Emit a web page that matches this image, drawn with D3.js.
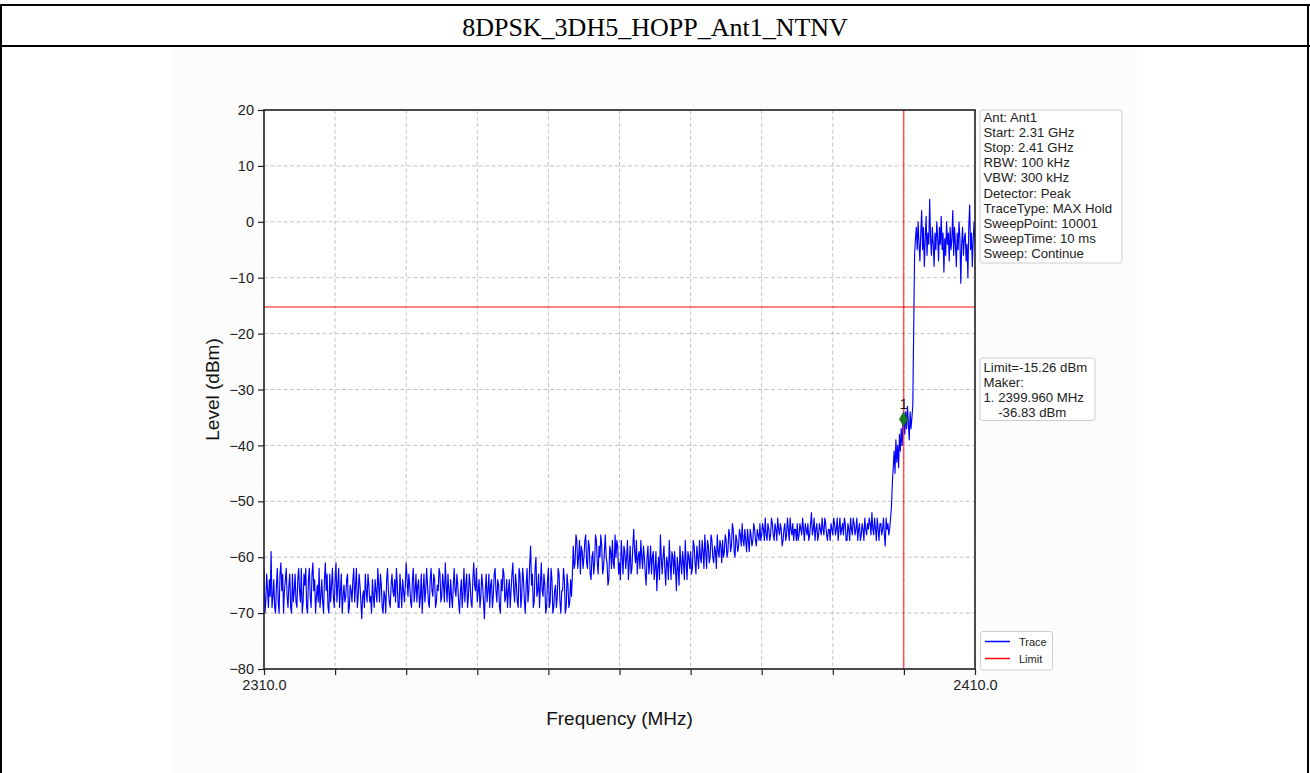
<!DOCTYPE html>
<html>
<head>
<meta charset="utf-8">
<script src="https://cdn.jsdelivr.net/npm/d3@7"></script>
<style>
  html, body { margin: 0; padding: 0; background: #ffffff; }
  svg { display: block; }
</style>
</head>
<body>
<svg id="chart" width="1310" height="773"></svg>
<script>
// ---------------- DATA ----------------
const title = "8DPSK_3DH5_HOPP_Ant1_NTNV";
const xDomain = [2310, 2410];
const yDomain = [-80, 20];
const xTickValues = [2310, 2320, 2330, 2340, 2350, 2360, 2370, 2380, 2390, 2400, 2410];
const xTickLabels = { 2310: "2310.0", 2410: "2410.0" };
const yTickValues = [-80, -70, -60, -50, -40, -30, -20, -10, 0, 10, 20];

// Trace, low band: samples at 2310.00 .. 2397.75 MHz every 0.25 MHz
const lowStart = 2310, lowStep = 0.25;
const levelsLow = [
  -62,-68,-66,-64,-59,-67,-69,-65,-68,-63,-66,-70,-64,-67,-65,-69,-63,-66,-68,-64,
  -66,-62,-68,-65,-69,-64,-67,-63,-66,-70,-65,-62,-67,-68,-64,-66,-69,-63,-65,-67,
  -64,-68,-62,-66,-70,-65,-67,-63,-69,-66,-64,-68,-62,-67,-65,-71,-66,-63,-68,-65,
  -67,-64,-69,-66,-62,-68,-65,-70,-67,-64,-66,-69,-63,-67,-68,-65,-69,-66,-64,-68,
  -61,-67,-65,-69,-62,-66,-68,-64,-67,-70,-63,-66,-65,-69,-62,-67,-64,-68,-66,-63,
  -67,-65,-61,-68,-66,-64,-69,-62,-67,-65,-70,-64,-66,-68,-63,-67,-65,-69,-61,-66,
  -68,-64,-67,-65,-71,-63,-66,-69,-64,-67,-62,-68,-65,-70,-66,-63,-67,-69,-64,-66,
  -61,-68,-65,-69,-63,-67,-64,-70,-62,-66,-58,-63,-68,-60,-66,-69,-61,-67,-65,-69,
  -62,-68,-64,-69,-65,-67,-63,-70,-66,-64,-69,-65,-68,-67,
  -58,-61,-57,-60,-63,-59,
  -60,-56,-62,-58,-64,-59,-61,-57,-63,-60,-58,-62,-56,-61,-64,-59,-57,-62,-60,-58,
  -61,-57,-63,-59,-60,-64,-58,-62,-55,-61,-63,-59,-57,-62,-60,-65,-58,-61,-63,-59,
  -62,-66,-60,-56,-63,-58,-65,-61,-57,-64,-60,-59,-66,-62,-58,-63,-61,-57,-64,-60,
  -59,-62,-58,-63,-60,-57,-61,-59,-56,-62,-58,-60,-57,-61,-59,-56,-60,-58,-57,-59,
  -57,-59,-56,-58,-55,-60,-57,-58,-56,-54,-58,-57,-55,-59,-56,-57,-55,-58,-56,-54,
  -56,-55,-53,-57,-55,-56,-54,-57,-55,-53,-56,-55,-57,-54,-56,-55,-53,-56,-57,-55,
  -54,-56,-55,-53,-57,-55,-54,-56,-52,-55,-57,-54,-56,-55,-53,-56,-54,-57,-55,-54,
  -56,-54,-55,-57,-53,-55,-56,-54,-57,-55,-53,-56,-54,-55,-57,-54,-56,-55,-53,-56,
  -55,-54,-52,-56,-55,-53,-57,-54,-55,-56,-53,-54
];
// Trace, low band: in-between samples at 2310.125 .. 2397.875 MHz every 0.25 MHz
const levelsLowMid = [
  -70,-63,-69,-67,-69,-64,-70,-62,-70,-61,-63,-66,-62,-69,-63,-70,-68,-63,-69,-62,
  -68,-70,-63,-62,-70,-62,-69,-61,-64,-67,-68,-69,-64,-70,-61,-63,-70,-68,-62,-69,
  -61,-65,-69,-63,-67,-68,-64,-70,-65,-68,-62,-65,-69,-63,-68,-67,-69,-66,-63,-68,
  -70,-67,-64,-68,-65,-63,-69,-66,-70,-62,-68,-65,-66,-64,-62,-69,-63,-69,-66,-65,
  -64,-63,-68,-64,-68,-63,-65,-69,-63,-66,-68,-62,-68,-64,-66,-63,-69,-65,-62,-68,
  -63,-68,-65,-63,-69,-67,-65,-66,-63,-68,-66,-69,-62,-65,-69,-63,-68,-64,-65,-62,
  -66,-69,-63,-68,-66,-68,-63,-65,-69,-63,-66,-64,-69,-64,-62,-68,-64,-66,-69,-63,
  -66,-63,-68,-62,-69,-62,-68,-65,-68,-61,-65,-69,-62,-67,-63,-65,-66,-63,-70,-64,
  -69,-62,-70,-66,-69,-62,-68,-66,-62,-70,-63,-69,-64,-63,
  -62,-56,-62,-57,-58,-62,
  -57,-61,-57,-63,-60,-63,-56,-61,-58,-56,-63,-59,-60,-65,-58,-62,-61,-56,-57,-63,
  -64,-60,-58,-62,-57,-61,-63,-58,-59,-57,-60,-62,-60,-58,-63,-60,-63,-58,-60,-64,
  -59,-62,-64,-60,-60,-62,-60,-64,-61,-59,-63,-62,-60,-65,-61,-59,-64,-61,-59,-62,
  -63,-57,-61,-58,-62,-60,-57,-62,-59,-57,-61,-56,-60,-58,-62,-59,-57,-61,-60,-56,
  -60,-55,-59,-54,-59,-56,-59,-55,-58,-57,-55,-59,-57,-55,-58,-54,-57,-55,-57,-57,
  -54,-57,-56,-54,-57,-53,-56,-54,-57,-55,-54,-58,-55,-57,-53,-57,-55,-54,-55,-57,
  -57,-54,-56,-55,-54,-56,-57,-54,-56,-53,-55,-57,-54,-56,-55,-53,-56,-55,-57,-55,
  -53,-56,-53,-55,-56,-54,-53,-57,-54,-57,-55,-53,-56,-53,-55,-57,-54,-57,-55,-54,
  -53,-56,-55,-53,-57,-55,-54,-56,-53,-58,-55,-56
];

// Trace, band edge transition
const transFreq = [2398.0,2398.25,2398.4,2398.5,2398.625,2398.75,2398.875,2399.0,2399.125,2399.25,
  2399.375,2399.5,2399.625,2399.75,2399.875,2399.96,2400.125,2400.25,2400.375,2400.5,
  2400.625,2400.75,2400.875,2401.0,2401.125,2401.25,2401.4,2401.5];
const transLevel = [-55,-51,-46,-44,-41,-45,-39,-43,-40,-44,
  -38,-41,-37,-40,-36,-35.3,-38,-34,-37,-33,
  -36,-39,-34,-37,-35,-33,-17,-6];

// Trace, in-band: 2401.625 .. 2410 MHz every 0.125 MHz
const highStart = 2401.625, highStep = 0.125;
const levelsHigh = [
  -3,-1,-5,0,-4,-7,-2,2,-5,-1,
  -8,-3,1,-6,-2,-4,4,-3,-6,-1,
  -4,-8,-2,-5,0,-3,-7,-1,-4,1,
  -5,-2,-9,-3,-6,0,-4,-2,-7,-1,
  -5,-3,2,-6,-1,-4,-8,-2,-5,0,
  -3,-11,-4,-1,-6,-3,-2,-7,-4,-10,
  -1,3,-5,-2,-8,-3,0,-4
];

const limitLevel = -15.26;
const markerFreq = 2399.96;
const markerLevel = -35.3;
const markerLabel = "1";

const infoLines = ["Ant: Ant1","Start: 2.31 GHz","Stop: 2.41 GHz","RBW: 100 kHz","VBW: 300 kHz",
  "Detector: Peak","TraceType: MAX Hold","SweepPoint: 10001","SweepTime: 10 ms","Sweep: Continue"];
const limitLines = ["Limit=-15.26 dBm","Maker:","1. 2399.960 MHz","    -36.83 dBm"];
const legendItems = [{name:"Trace", color:"#0000ff"},{name:"Limit", color:"#ff0000"}];
const xLabel = "Frequency (MHz)";
const yLabel = "Level (dBm)";

// ---------------- BUILD ----------------
const trace = [];
levelsLow.forEach((v,i)=>{
  trace.push([lowStart + i*lowStep, v]);
  trace.push([lowStart + i*lowStep + lowStep/2, levelsLowMid[i]]);
});
transFreq.forEach((f,i)=>trace.push([f, transLevel[i]]));
levelsHigh.forEach((v,i)=>trace.push([highStart + i*highStep, v]));

const svg = d3.select("#chart");
const W = 1310, H = 773;
const plot = {left: 264, top: 110, right: 975, bottom: 669};
const font = "'Liberation Sans', Arial, sans-serif";

// table frame
svg.append("rect").attr("x",172).attr("y",48).attr("width",965).attr("height",H-48).attr("fill","#fcfcfc");
const frame = svg.append("g").attr("stroke","#000").attr("stroke-width",2);
frame.append("line").attr("x1",0).attr("x2",W).attr("y1",5).attr("y2",5);
frame.append("line").attr("x1",0).attr("x2",W).attr("y1",46).attr("y2",46);
frame.append("line").attr("x1",1).attr("x2",1).attr("y1",5).attr("y2",H);
frame.append("line").attr("x1",1308).attr("x2",1308).attr("y1",5).attr("y2",H);
svg.append("text").attr("x",655).attr("y",36).attr("text-anchor","middle")
  .attr("font-family","'Liberation Serif','Times New Roman',serif").attr("font-size",26)
  .attr("fill","#000").text(title);

const x = d3.scaleLinear().domain(xDomain).range([plot.left, plot.right]);
const y = d3.scaleLinear().domain(yDomain).range([plot.bottom, plot.top]);

svg.append("rect").attr("x",plot.left).attr("y",plot.top)
  .attr("width",plot.right-plot.left).attr("height",plot.bottom-plot.top).attr("fill","#fff");

// grid
const grid = svg.append("g").attr("stroke","#b5b5b5").attr("stroke-width",0.8).attr("stroke-dasharray","4,2.5");
xTickValues.forEach(v=>grid.append("line").attr("x1",x(v)).attr("x2",x(v)).attr("y1",plot.top).attr("y2",plot.bottom));
yTickValues.forEach(v=>grid.append("line").attr("x1",plot.left).attr("x2",plot.right).attr("y1",y(v)).attr("y2",y(v)));

// axes
const xAxis = d3.axisBottom(x).tickValues(xTickValues).tickSize(6).tickPadding(5)
  .tickFormat(d=>xTickLabels[d] || "");
const gx = svg.append("g").attr("transform",`translate(0,${plot.bottom})`).call(xAxis);
const yAxis = d3.axisLeft(y).tickValues(yTickValues).tickSize(6).tickPadding(4).tickFormat(d=>d3.format("d")(d).replace("-","\u2212"));
const gy = svg.append("g").attr("transform",`translate(${plot.left},0)`).call(yAxis);
[gx,gy].forEach(g=>{
  g.select(".domain").remove();
  g.selectAll(".tick line").attr("stroke","#222").attr("stroke-width",1.2);
  g.selectAll(".tick text").attr("font-family",font).attr("font-size",14.5).attr("fill","#222");
});

// clip
svg.append("clipPath").attr("id","clip").append("rect")
  .attr("x",plot.left).attr("y",plot.top).attr("width",plot.right-plot.left).attr("height",plot.bottom-plot.top);

const line = d3.line().x(d=>x(d[0])).y(d=>y(d[1]));
svg.append("path").datum(trace).attr("d",line).attr("fill","none")
  .attr("stroke","#0000ff").attr("stroke-width",1.15).attr("stroke-linejoin","round")
  .attr("clip-path","url(#clip)");

// limit line and marker line
svg.append("line").attr("x1",plot.left).attr("x2",plot.right).attr("y1",y(limitLevel)).attr("y2",y(limitLevel))
  .attr("stroke","#ff0000").attr("stroke-opacity",0.65).attr("stroke-width",1.5);
svg.append("line").attr("x1",x(markerFreq)).attr("x2",x(markerFreq)).attr("y1",plot.top).attr("y2",plot.bottom)
  .attr("stroke","#ff0000").attr("stroke-opacity",0.65).attr("stroke-width",1.5);

// marker
const mx = x(markerFreq), my = y(markerLevel);
svg.append("path").attr("d",d3.symbol().type(d3.symbolDiamond).size(60)())
  .attr("transform",`translate(${mx},${my})`).attr("fill","#1f7a1f").attr("stroke","#0e5e0e").attr("stroke-width",0.6);
svg.append("text").attr("x",mx).attr("y",my-10).attr("text-anchor","middle")
  .attr("font-family",font).attr("font-size",14).attr("fill","#111").text(markerLabel);

// spines
svg.append("rect").attr("x",plot.left).attr("y",plot.top)
  .attr("width",plot.right-plot.left).attr("height",plot.bottom-plot.top)
  .attr("fill","none").attr("stroke","#222").attr("stroke-width",1.6);

// axis labels
svg.append("text").attr("x",(plot.left+plot.right)/2).attr("y",725).attr("text-anchor","middle")
  .attr("font-family",font).attr("font-size",19).attr("fill","#111").text(xLabel);
svg.append("text").attr("transform",`translate(219,${(plot.top+plot.bottom)/2}) rotate(-90)`)
  .attr("text-anchor","middle").attr("font-family",font).attr("font-size",19).attr("fill","#111").text(yLabel);

// info boxes
function box(x0,y0,w,h){
  svg.append("rect").attr("x",x0).attr("y",y0).attr("width",w).attr("height",h).attr("rx",2.5)
    .attr("fill","#fff").attr("stroke","#cccccc").attr("stroke-width",1);
}
box(980,110,142,153);
infoLines.forEach((t,i)=>svg.append("text").attr("x",983.5).attr("y",121.5+i*15.2)
  .attr("font-family",font).attr("font-size",13.2).attr("fill","#222").text(t));
box(980,358,115,62.5);
limitLines.forEach((t,i)=>svg.append("text").attr("x",983.5).attr("y",371.5+i*15.2)
  .attr("font-family",font).attr("font-size",13.2).attr("fill","#222")
  .style("white-space","pre").attr("xml:space","preserve").text(t));

// legend
box(980.5,631.5,72,38.5);
legendItems.forEach((it,i)=>{
  const yy = 641.5 + i*17;
  svg.append("line").attr("x1",985).attr("x2",1010).attr("y1",yy).attr("y2",yy)
    .attr("stroke",it.color).attr("stroke-width",1.5);
  svg.append("text").attr("x",1019).attr("y",yy+4).attr("font-family",font).attr("font-size",11)
    .attr("fill","#222").text(it.name);
});
</script>
</body>
</html>
